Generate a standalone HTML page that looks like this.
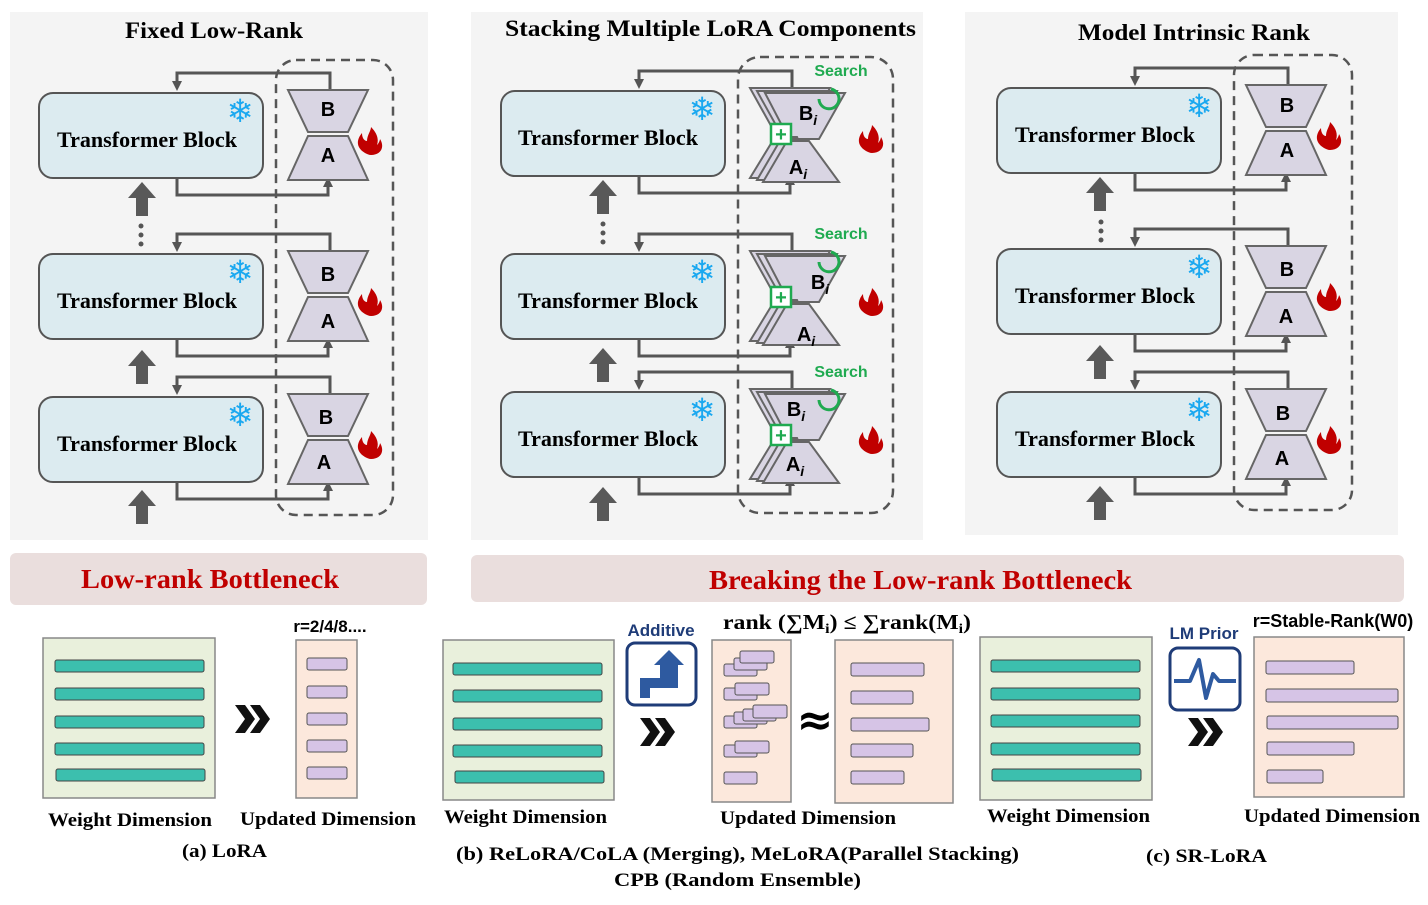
<!DOCTYPE html>
<html><head><meta charset="utf-8"><style>
body{margin:0;background:#fff}
svg{display:block}
.s{font-family:"Liberation Serif",serif}
.a{font-family:"Liberation Sans",sans-serif}
</style></head><body>
<svg width="1428" height="905" viewBox="0 0 1428 905" xmlns="http://www.w3.org/2000/svg">
<defs>
<marker id="ah" markerWidth="10" markerHeight="10" refX="5" refY="5" orient="auto" markerUnits="userSpaceOnUse"><path d="M0,0 L10,5 L0,10z" fill="#555"/></marker>
<g id="up"><polygon points="0,0 14,16 6,16 6,34 -6,34 -6,16 -14,16" fill="#595959"/></g>
<g id="chev"><polygon points="0,0 10,0 20,14 10,28 0,28 10,14" fill="#111"/><polygon points="15,0 25,0 35,14 25,28 15,28 25,14" fill="#111"/></g>
<g id="box">
<rect x="0" y="0" width="224" height="85" rx="14" fill="#dcebf0" stroke="#555" stroke-width="2"/>
<polyline points="138,85 138,102 289,102 289,89" fill="none" stroke="#555" stroke-width="3" marker-end="url(#ah)"/>
<polyline points="291,-3 291,-20 138,-20 138,-7" fill="none" stroke="#555" stroke-width="3" marker-end="url(#ah)"/>
</g>
<g id="ba">
<polygon points="249,-3 329,-3 309,39 269,39" fill="#d9d5e3" stroke="#666" stroke-width="2"/>
<polygon points="269,43 309,43 329,87 249,87" fill="#d9d5e3" stroke="#666" stroke-width="2"/>
</g>
<g id="stk">
<polygon points="249,-3 329,-3 304,42 274,42" fill="#d9d5e3" stroke="#666" stroke-width="2"/>
<polygon points="256,0 336,0 311,45 281,45" fill="#d9d5e3" stroke="#666" stroke-width="2"/>
<polygon points="264,2 344,2 318,48 288,48" fill="#d9d5e3" stroke="#666" stroke-width="2"/>
<polygon points="274,46 296,46 312,87 249,87" fill="#d9d5e3" stroke="#666" stroke-width="2"/>
<polygon points="280,48 302,48 318,89 256,89" fill="#d9d5e3" stroke="#666" stroke-width="2"/>
<polygon points="286,50 308,50 338,91 262,91" fill="#d9d5e3" stroke="#666" stroke-width="2"/>
<rect x="270" y="33" width="20" height="20" fill="#fff" stroke="#1faa50" stroke-width="2.5"/>
<text x="280" y="50" text-anchor="middle" class="a" font-size="20" font-weight="bold" fill="#1faa50">+</text>
<path d="M318,8 A10,10 0 1 0 330,-2" fill="none" stroke="#1faa50" stroke-width="3"/>
</g>
<g id="fire"><path d="M0,0 C-10,-6 -8,-14 -3,-20 C-3,-14 0,-12 2,-12 C2,-18 6,-22 6,-26 C12,-20 14,-14 12,-8 C14,-10 15,-13 15,-14 C20,-6 16,2 6,2 C4,2 2,1 0,0z" fill="#c00000"/></g>
</defs>

<rect x="10" y="12" width="418" height="528" fill="#f4f4f4"/>
<rect x="471" y="12" width="452" height="528" fill="#f4f4f4"/>
<rect x="965" y="12" width="433" height="523" fill="#f4f4f4"/>
<g class="s" font-size="23" font-weight="bold" lengthAdjust="spacingAndGlyphs">
<text x="125" y="38" textLength="178" lengthAdjust="spacingAndGlyphs">Fixed Low-Rank</text>
<text x="505" y="36" textLength="411" lengthAdjust="spacingAndGlyphs">Stacking Multiple LoRA Components</text>
<text x="1078" y="40" textLength="232" lengthAdjust="spacingAndGlyphs">Model Intrinsic Rank</text>
</g>

<rect x="276" y="60" width="117" height="455" rx="20" fill="none" stroke="#555" stroke-width="2.5" stroke-dasharray="9,6"/>
<rect x="738" y="57" width="155" height="456" rx="22" fill="none" stroke="#555" stroke-width="2.5" stroke-dasharray="9,6"/>
<rect x="1234" y="55" width="118" height="455" rx="20" fill="none" stroke="#555" stroke-width="2.5" stroke-dasharray="9,6"/>

<g transform="translate(39,93)"><use href="#box"/><use href="#ba"/><use href="#fire" transform="translate(326,60)"/></g>
<g transform="translate(39,254)"><use href="#box"/><use href="#ba"/><use href="#fire" transform="translate(326,60)"/></g>
<g transform="translate(39,397)"><use href="#box"/><use href="#ba"/><use href="#fire" transform="translate(326,60)"/></g>
<g transform="translate(501,91)"><use href="#box"/><use href="#stk"/><use href="#fire" transform="translate(365,60)"/></g>
<g transform="translate(501,254)"><use href="#box"/><use href="#stk"/><use href="#fire" transform="translate(365,60)"/></g>
<g transform="translate(501,392)"><use href="#box"/><use href="#stk"/><use href="#fire" transform="translate(365,60)"/></g>
<g transform="translate(997,88)"><use href="#box"/><use href="#ba"/><use href="#fire" transform="translate(327,60)"/></g>
<g transform="translate(997,249)"><use href="#box"/><use href="#ba"/><use href="#fire" transform="translate(327,60)"/></g>
<g transform="translate(997,392)"><use href="#box"/><use href="#ba"/><use href="#fire" transform="translate(327,60)"/></g>

<g class="s" font-size="22" font-weight="bold">
<text x="57" y="147" textLength="180" lengthAdjust="spacingAndGlyphs">Transformer Block</text>
<text x="57" y="308" textLength="180" lengthAdjust="spacingAndGlyphs">Transformer Block</text>
<text x="57" y="451" textLength="180" lengthAdjust="spacingAndGlyphs">Transformer Block</text>
<text x="518" y="145" textLength="180" lengthAdjust="spacingAndGlyphs">Transformer Block</text>
<text x="518" y="308" textLength="180" lengthAdjust="spacingAndGlyphs">Transformer Block</text>
<text x="518" y="446" textLength="180" lengthAdjust="spacingAndGlyphs">Transformer Block</text>
<text x="1015" y="142" textLength="180" lengthAdjust="spacingAndGlyphs">Transformer Block</text>
<text x="1015" y="303" textLength="180" lengthAdjust="spacingAndGlyphs">Transformer Block</text>
<text x="1015" y="446" textLength="180" lengthAdjust="spacingAndGlyphs">Transformer Block</text>
</g>
<g font-size="32" fill="#1aa8f0" text-anchor="middle" font-family="DejaVu Sans,sans-serif">
<text x="240" y="122">❄</text><text x="240" y="283">❄</text><text x="240" y="426">❄</text>
<text x="702" y="120">❄</text><text x="702" y="283">❄</text><text x="702" y="421">❄</text>
<text x="1199" y="117">❄</text><text x="1199" y="278">❄</text><text x="1199" y="421">❄</text>
</g>
<g class="a" font-size="20" font-weight="bold" text-anchor="middle">
<text x="328" y="116">B</text><text x="328" y="162">A</text>
<text x="328" y="281">B</text><text x="328" y="328">A</text>
<text x="326" y="424">B</text><text x="324" y="469">A</text>
<text x="1287" y="112">B</text><text x="1287" y="157">A</text>
<text x="1287" y="276">B</text><text x="1286" y="323">A</text>
<text x="1283" y="420">B</text><text x="1282" y="465">A</text>
<text x="808" y="120">B<tspan font-size="14" font-style="italic" dy="5">i</tspan></text>
<text x="798" y="174">A<tspan font-size="14" font-style="italic" dy="5">i</tspan></text>
<text x="820" y="289">B<tspan font-size="14" font-style="italic" dy="5">i</tspan></text>
<text x="806" y="341">A<tspan font-size="14" font-style="italic" dy="5">i</tspan></text>
<text x="796" y="416">B<tspan font-size="14" font-style="italic" dy="5">i</tspan></text>
<text x="795" y="471">A<tspan font-size="14" font-style="italic" dy="5">i</tspan></text>
</g>
<g class="a" font-size="16" font-weight="bold" fill="#1faa50" text-anchor="middle">
<text x="841" y="76">Search</text><text x="841" y="239">Search</text><text x="841" y="377">Search</text>
</g>

<use href="#up" x="142" y="182"/><use href="#up" x="142" y="350"/><use href="#up" x="142" y="490"/>
<use href="#up" x="603" y="180"/><use href="#up" x="603" y="348"/><use href="#up" x="603" y="487"/>
<use href="#up" x="1100" y="177"/><use href="#up" x="1100" y="345"/><use href="#up" x="1100" y="486"/>
<g fill="#555"><circle cx="141" cy="226" r="2.5"/><circle cx="141" cy="235" r="2.5"/><circle cx="141" cy="244" r="2.5"/>
<circle cx="603" cy="224" r="2.5"/><circle cx="603" cy="233" r="2.5"/><circle cx="603" cy="242" r="2.5"/>
<circle cx="1101" cy="222" r="2.5"/><circle cx="1101" cy="231" r="2.5"/><circle cx="1101" cy="240" r="2.5"/></g>

<rect x="10" y="553" width="417" height="52" rx="6" fill="#eadedd"/>
<text x="81" y="588" textLength="258" lengthAdjust="spacingAndGlyphs" class="s" font-size="27" font-weight="bold" fill="#c00000">Low-rank Bottleneck</text>
<rect x="471" y="555" width="933" height="47" rx="6" fill="#eadedd"/>
<text x="709" y="589" textLength="423" lengthAdjust="spacingAndGlyphs" class="s" font-size="27" font-weight="bold" fill="#c00000">Breaking the Low-rank Bottleneck</text>

<g fill="#e9f0dc" stroke="#888" stroke-width="1.5">
<rect x="43" y="638" width="172" height="160"/>
<rect x="443" y="640" width="171" height="160"/>
<rect x="980" y="637" width="172" height="163"/>
</g>
<g fill="#3cbfae" stroke="#444" stroke-width="1">
<rect x="55" y="660" width="149" height="12" rx="2"/><rect x="55" y="688" width="149" height="12" rx="2"/><rect x="55" y="716" width="149" height="12" rx="2"/><rect x="55" y="743" width="149" height="12" rx="2"/><rect x="56" y="769" width="149" height="12" rx="2"/>
<rect x="453" y="663" width="149" height="12" rx="2"/><rect x="453" y="690" width="149" height="12" rx="2"/><rect x="453" y="718" width="149" height="12" rx="2"/><rect x="453" y="745" width="149" height="12" rx="2"/><rect x="455" y="771" width="149" height="12" rx="2"/>
<rect x="991" y="660" width="149" height="12" rx="2"/><rect x="991" y="688" width="149" height="12" rx="2"/><rect x="991" y="715" width="149" height="12" rx="2"/><rect x="991" y="743" width="149" height="12" rx="2"/><rect x="992" y="769" width="149" height="12" rx="2"/>
</g>

<rect x="296" y="640" width="61" height="158" fill="#fce8dc" stroke="#888" stroke-width="1.5"/>
<rect x="712" y="640" width="79" height="162" fill="#fce8dc" stroke="#888" stroke-width="1.5"/>
<rect x="835" y="640" width="118" height="163" fill="#fce8dc" stroke="#888" stroke-width="1.5"/>
<rect x="1254" y="637" width="150" height="160" fill="#fce8dc" stroke="#888" stroke-width="1.5"/>
<g fill="#d6c4e6" stroke="#555" stroke-width="1">
<rect x="307" y="658" width="40" height="12" rx="2"/><rect x="307" y="686" width="40" height="12" rx="2"/><rect x="307" y="713" width="40" height="12" rx="2"/><rect x="307" y="740" width="40" height="12" rx="2"/><rect x="307" y="767" width="40" height="12" rx="2"/>
<rect x="851" y="663" width="73" height="13" rx="2"/><rect x="851" y="691" width="62" height="13" rx="2"/><rect x="851" y="718" width="78" height="13" rx="2"/><rect x="851" y="744" width="62" height="13" rx="2"/><rect x="851" y="771" width="53" height="13" rx="2"/>
<rect x="1266" y="661" width="88" height="13" rx="2"/><rect x="1266" y="689" width="132" height="13" rx="2"/><rect x="1267" y="716" width="131" height="13" rx="2"/><rect x="1267" y="742" width="87" height="13" rx="2"/><rect x="1267" y="770" width="56" height="13" rx="2"/>
<rect x="724" y="664" width="33" height="12" rx="2"/><rect x="734" y="658" width="33" height="12" rx="2"/><rect x="740" y="651" width="34" height="12" rx="2"/>
<rect x="724" y="688" width="33" height="12" rx="2"/><rect x="735" y="683" width="34" height="12" rx="2"/>
<rect x="724" y="716" width="33" height="12" rx="2"/><rect x="734" y="712" width="33" height="12" rx="2"/><rect x="743" y="709" width="33" height="12" rx="2"/><rect x="753" y="705" width="34" height="13" rx="2"/>
<rect x="724" y="745" width="33" height="12" rx="2"/><rect x="735" y="741" width="34" height="12" rx="2"/>
<rect x="724" y="772" width="33" height="12" rx="2"/>
</g>
<use href="#chev" x="235" y="705"/><use href="#chev" x="640" y="718"/><use href="#chev" x="1188" y="718"/>
<text x="815" y="735" text-anchor="middle" font-size="44" font-weight="bold" font-family="DejaVu Sans,sans-serif">≈</text>

<text x="330" y="632" text-anchor="middle" class="a" font-size="17" font-weight="bold">r=2/4/8....</text>
<text x="1333" y="627" text-anchor="middle" class="a" font-size="18" font-weight="bold">r=Stable-Rank(W0)</text>
<text x="723" y="629" textLength="248" lengthAdjust="spacingAndGlyphs" class="s" font-size="21" font-weight="bold">rank (∑M<tspan font-size="14" dy="4">i</tspan><tspan dy="-4">) ≤ ∑rank(M</tspan><tspan font-size="14" dy="4">i</tspan><tspan dy="-4">)</tspan></text>

<text x="661" y="636" text-anchor="middle" class="a" font-size="17" font-weight="bold" fill="#1f3c78">Additive</text>
<rect x="627" y="643" width="69" height="62" rx="8" fill="#fff" stroke="#1f3c78" stroke-width="3"/>
<path d="M640,698 L640,678 L660,678 L660,665 L654,665 L669,650 L684,665 L678,665 L678,688 L650,688 L650,698z" fill="#2e5aa0"/>
<text x="1204" y="639" text-anchor="middle" class="a" font-size="17" font-weight="bold" fill="#1f3c78">LM Prior</text>
<rect x="1170" y="648" width="70" height="62" rx="8" fill="#fff" stroke="#1f3c78" stroke-width="3"/>
<polyline points="1174,681 1190,681 1199,660 1206,698 1213,674 1219,681 1236,681" fill="none" stroke="#2e5aa0" stroke-width="4" stroke-linejoin="round"/>

<g class="s" font-size="19" font-weight="bold">
<text x="48" y="826" textLength="164" lengthAdjust="spacingAndGlyphs">Weight Dimension</text>
<text x="240" y="825" textLength="176" lengthAdjust="spacingAndGlyphs">Updated Dimension</text>
<text x="444" y="823" textLength="163" lengthAdjust="spacingAndGlyphs">Weight Dimension</text>
<text x="720" y="824" textLength="176" lengthAdjust="spacingAndGlyphs">Updated Dimension</text>
<text x="987" y="822" textLength="163" lengthAdjust="spacingAndGlyphs">Weight Dimension</text>
<text x="1244" y="822" textLength="176" lengthAdjust="spacingAndGlyphs">Updated Dimension</text>
<text x="182" y="857" textLength="85" lengthAdjust="spacingAndGlyphs">(a) LoRA</text>
<text x="456" y="860" textLength="563" lengthAdjust="spacingAndGlyphs">(b) ReLoRA/CoLA (Merging), MeLoRA(Parallel Stacking)</text>
<text x="614" y="886" textLength="247" lengthAdjust="spacingAndGlyphs">CPB (Random Ensemble)</text>
<text x="1146" y="862" textLength="121" lengthAdjust="spacingAndGlyphs">(c) SR-LoRA</text>
</g>
</svg>
</body></html>
